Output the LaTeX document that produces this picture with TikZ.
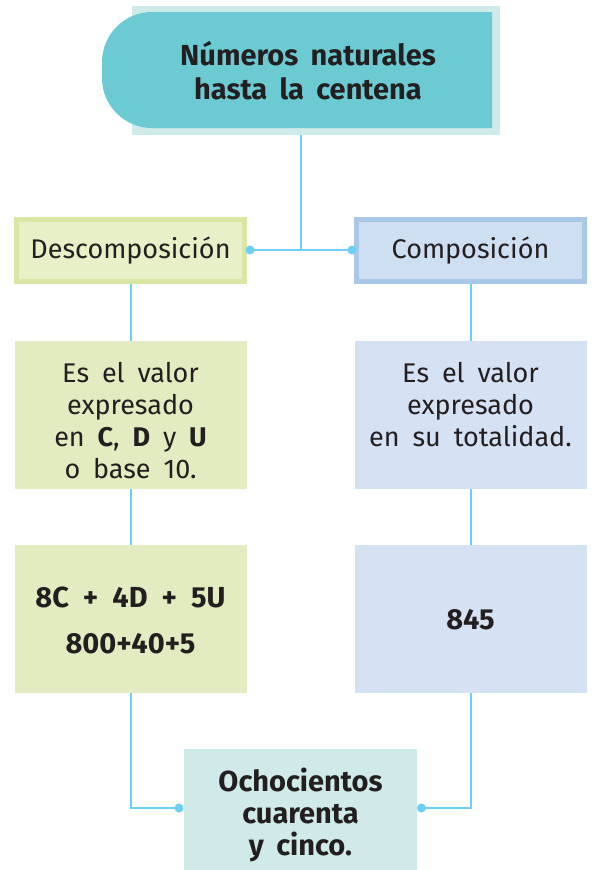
\documentclass[tikz,border=0pt]{standalone}
\usepackage{fontspec}
\setmainfont{Fira Sans}[WordSpace=1.8]
\usetikzlibrary{backgrounds}
\definecolor{txt}{HTML}{231F20}
\definecolor{lineblue}{HTML}{6DCFF6}
\definecolor{teal}{HTML}{6CCBD2}
\definecolor{palet}{HTML}{CFEAEB}
\definecolor{gbord}{HTML}{DAE6A4}
\definecolor{gfillA}{HTML}{E8F0C8}
\definecolor{gfill}{HTML}{E3ECC1}
\definecolor{bbord}{HTML}{A9C8E8}
\definecolor{bfillA}{HTML}{CFDFF2}
\definecolor{bfill}{HTML}{D5E2F3}
\definecolor{finfill}{HTML}{D0EAEA}
\tikzset{
  conn/.style={draw=lineblue, line width=2pt},
  dotc/.style={fill=lineblue},
  headbox/.style={rectangle, line width=5pt, minimum width=228pt, minimum height=62pt, inner sep=0pt, outer sep=0pt, text=txt, font=\fontsize{27}{30}\selectfont},
  cellbox/.style={rectangle, minimum width=232pt, minimum height=148pt, inner sep=0pt, outer sep=0pt},
  bodytext/.style={align=center, inner sep=0pt, text=txt, font=\fontsize{27}{32}\selectfont, anchor=north},
  boldtext/.style={align=center, inner sep=0pt, text=txt, font=\bfseries\fontsize{29}{32}\selectfont}
}
\begin{document}
\begin{tikzpicture}[x=1pt,y=-1pt]
\useasboundingbox (0,0) rectangle (592,870);
% title
\node[rectangle, fill=palet, minimum width=368pt, minimum height=129pt, inner sep=0pt, outer sep=0pt] (topouter) at (316,70) {};
\fill[teal] (492,12) -- (492,128) -- (152,128) arc[start angle=-90, end angle=-180, radius=50pt] -- (102,62) arc[start angle=180, end angle=90, radius=50pt] -- cycle;
\node[boldtext, font=\bfseries\fontsize{29}{34}\selectfont] (title) at (308,71) {Números naturales\\hasta la centena};
% row 1
\node[headbox, draw=gbord, fill=gfillA] (desc) at (130.5,250.5) {Descomposición};
\node[headbox, draw=bbord, fill=bfillA] (comp) at (470.5,250.5) {Composición};
% row 2
\node[cellbox, fill=gfill] (def1) at (130.5,415) {};
\node[cellbox, fill=bfill] (def2) at (470.5,415) {};
\node[bodytext] (t1) at (130.5,362) {Es el valor\\expresado\\en \textbf{C}, \textbf{D} y \textbf{U}\\o base 10.};
\node[bodytext] (t2) at (470.5,362) {Es el valor\\expresado\\en su totalidad.};
% row 3
\node[cellbox, fill=gfill] (val1) at (130.5,619) {};
\node[cellbox, fill=bfill] (val2) at (470.5,619) {};
\node[boldtext] (v1) at (130.5,620) {8C\hspace{14pt}+\hspace{14pt}4D\hspace{14pt}+\hspace{14pt}5U\\[14pt]800+40+5};
\node[boldtext] (v2) at (470.5,620) {845};
% final
\node[rectangle, fill=finfill, minimum width=233pt, minimum height=122pt, inner sep=0pt, outer sep=0pt] (fin) at (300.5,810) {};
\node[boldtext] (ft) at (300.5,815) {Ochocientos\\cuarenta\\y cinco.};
% connectors
\coordinate (j) at (300.5,250);
\coordinate (dl) at (250,250);
\coordinate (dr) at (352,250);
\coordinate (fl) at (179,808);
\coordinate (fr) at (421.5,808);
\begin{scope}[on background layer]
\draw[conn] (topouter.south -| j) -- (j);
\draw[conn] (dl) -- (dr);
\draw[conn] (desc.south) -- (def1.north);
\draw[conn] (comp.south) -- (def2.north);
\draw[conn] (def1.south) -- (val1.north);
\draw[conn] (def2.south) -- (val2.north);
\draw[conn] (val1.south) |- (fl);
\draw[conn] (val2.south) |- (fr);
\end{scope}
\fill[dotc] (dl) circle (4.5pt);
\fill[dotc] (dr) circle (4.5pt);
\fill[dotc] (fl) circle (4.5pt);
\fill[dotc] (fr) circle (4.5pt);
\end{tikzpicture}
\end{document}
